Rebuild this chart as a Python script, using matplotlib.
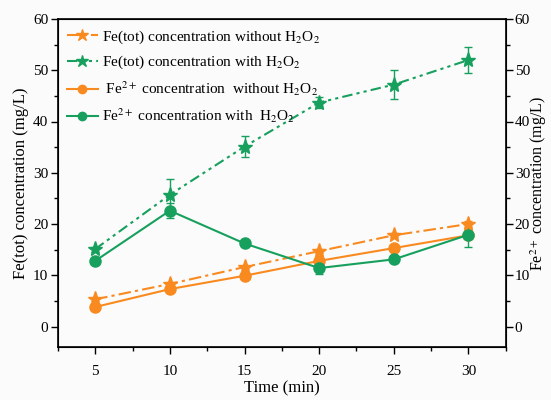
import numpy as np
import matplotlib
matplotlib.use('Agg')
import matplotlib.pyplot as plt
from matplotlib.ticker import MultipleLocator
from matplotlib.lines import Line2D

plt.rcParams['font.family'] = ['Liberation Serif', 'DejaVu Serif']
plt.rcParams['mathtext.fontset'] = 'stix'

# data
time = [5, 10, 15, 20, 25, 30]
fetot_without = [5.3, 8.3, 11.6, 14.7, 17.8, 20.0]
fetot_without_err = [0.3, 0.4, 0.3, 0.4, 0.4, 0.6]
fetot_with = [15.1, 25.7, 35.1, 43.7, 47.2, 52.0]
fetot_with_err = [0.5, 3.0, 2.0, 1.0, 2.8, 2.6]
fe2_without = [3.8, 7.3, 9.9, 12.8, 15.3, 17.8]
fe2_without_err = [0.3, 0.3, 0.3, 0.4, 0.3, 0.5]
fe2_with = [12.8, 22.6, 16.2, 11.4, 13.1, 17.9]
fe2_with_err = [0.4, 1.5, 0.4, 1.2, 0.3, 2.3]

labels = ['Fe(tot) concentration without H$_2$O$_2$',
          'Fe(tot) concentration with H$_2$O$_2$',
          ' Fe$^{2+}$ concentration  without H$_2$O$_2$',
          'Fe$^{2+}$ concentration with  H$_2$O$_2$']

orange = '#F98A1F'
green = '#17A05D'
dashdot = (0, (6, 2, 1.5, 2))
dashdotdot = (0, (5, 2, 1.5, 2, 1.5, 2))

fig = plt.figure(figsize=(5.51, 4.0), dpi=100)
fig.patch.set_facecolor('#FBFBFB')
ax = fig.add_axes([0.105, 0.1325, 0.813, 0.82])
ax.set_facecolor('#FBFBFB')

series = [
    (fetot_without, fetot_without_err, orange, dashdot, '*', 11),
    (fetot_with, fetot_with_err, green, dashdotdot, '*', 11),
    (fe2_without, fe2_without_err, orange, '-', 'o', 8),
    (fe2_with, fe2_with_err, green, '-', 'o', 8),
]
handles = []
for (y, err, c, ls, mk, ms), lab in zip(series, labels):
    ax.errorbar(time, y, yerr=err, color=c, ls=ls, lw=1.5, marker=mk, ms=ms,
                capsize=3, elinewidth=1)
    handles.append(Line2D([], [], color=c, ls=ls, lw=1.5, marker=mk,
                          ms=ms - 2, label=lab))

ax.set_xlim(2.5, 32.5)
ax.set_ylim(-4, 60)
ax.set_xticks(time)
ax.xaxis.set_minor_locator(MultipleLocator(2.5))
ax.set_yticks(range(0, 61, 10))
ax.yaxis.set_minor_locator(MultipleLocator(5))
ax.tick_params(direction='out', labelsize=11, length=5, width=1, pad=2)
ax.tick_params(axis='x', pad=8)
ax.tick_params(which='minor', direction='out', length=3, width=1)
for s in ax.spines.values():
    s.set_linewidth(1.2)

ax.set_xlabel('Time (min)', fontsize=12, labelpad=2)
ax.set_ylabel('Fe(tot) concentration (mg/L)', fontsize=12, labelpad=3)

ax2 = ax.twinx()
ax2.set_ylim(-4, 60)
ax2.set_yticks(range(0, 61, 10))
ax2.yaxis.set_minor_locator(MultipleLocator(5))
ax2.tick_params(direction='out', labelsize=11, length=5, width=1, pad=1.5)
ax2.tick_params(which='minor', direction='out', length=3, width=1)
ax2.set_ylabel('Fe$^{2+}$ concentration (mg/L)', fontsize=11.5, labelpad=-1)

ax.legend(handles=handles, loc='upper left', frameon=False, fontsize=11,
          handlelength=2.0, handletextpad=0.3, labelspacing=0.55,
          borderaxespad=0.2)

fig.savefig('out.png', dpi=100, facecolor=fig.get_facecolor())
